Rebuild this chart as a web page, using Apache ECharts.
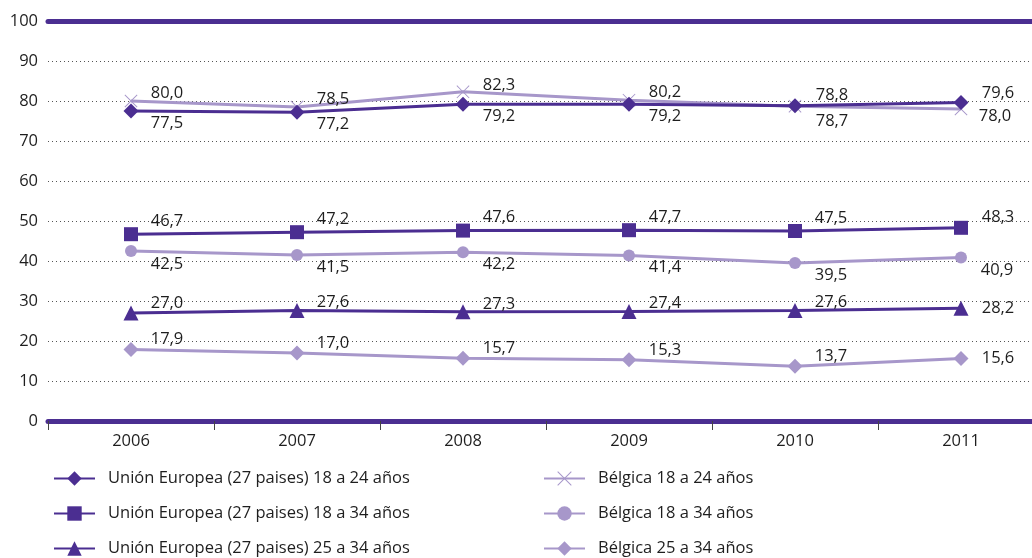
<!DOCTYPE html>
<html>
<head>
<meta charset="utf-8">
<script src="https://cdn.jsdelivr.net/npm/echarts@6/dist/echarts.min.js"></script>
<style>
html,body{margin:0;padding:0;background:#fff;}
#chart{width:1032px;height:558px;}
</style>
</head>
<body>
<div id="chart"></div>
<script>
const years = ['2006', '2007', '2008', '2009', '2010', '2011'];
const yTicks = [0, 10, 20, 30, 40, 50, 60, 70, 80, 90, 100];
const seriesNames = [
  'Unión Europea (27 paises) 18 a 24 años',
  'Unión Europea (27 paises) 18 a 34 años',
  'Unión Europea (27 paises) 25 a 34 años',
  'Bélgica 18 a 24 años',
  'Bélgica 18 a 34 años',
  'Bélgica 25 a 34 años'
];
const eu1824 = [77.5, 77.2, 79.2, 79.2, 78.8, 79.6];
const eu1834 = [46.7, 47.2, 47.6, 47.7, 47.5, 48.3];
const eu2534 = [27.0, 27.6, 27.3, 27.4, 27.6, 28.2];
const be1824 = [80.0, 78.5, 82.3, 80.2, 78.7, 78.0];
const be1834 = [42.5, 41.5, 42.2, 41.4, 39.5, 40.9];
const be2534 = [17.9, 17.0, 15.7, 15.3, 13.7, 15.6];

const DARK = '#4b2e91';
const LIGHT = '#a797ca';
const FONT = 'Open Sans';
const FS = 16.5;
const TXT = '#1e1e1e';
const xSym = 'path://M0,1L1,0L10,9L19,0L20,1L11,10L20,19L19,20L10,11L1,20L0,19L9,10Z';

// label offsets (style only): [dx, dy] per point
const offEu1824 = [[36,12],[36,12],[36,12],[36,12],[37,-11],[37,-9]];
const offBe1824 = [[36,-8],[36,-8],[36,-7],[36,-8],[37,15],[34,7]];
const offEu1834 = [[36,-13],[36,-13],[36,-13],[36,-13],[36,-13],[37,-11]];
const offBe1834 = [[36,13],[36,12],[36,12],[36,12],[36,12],[36,13]];
const offEu2534 = [[36,-10],[36,-8],[36,-8],[36,-8],[36,-8],[37,0]];
const offBe2534 = [[36,-10],[36,-10],[36,-10],[36,-10],[36,-10],[37,0]];

function fmt(v){ return v.toFixed(1).replace('.', ','); }

function mk(name, vals, offs, color, symbol, size){
  return {
    name: name,
    type: 'line',
    data: vals.map((v, i) => ({
      value: v,
      label: { offset: offs[i] }
    })),
    symbol: symbol,
    symbolSize: size,
    showAllSymbol: true,
    lineStyle: { color: color, width: 3 },
    itemStyle: { color: color, borderWidth: 0 },
    emphasis: { disabled: true },
    animation: false,
    label: {
      show: true,
      position: 'inside',
      formatter: p => fmt(p.value),
      color: TXT,
      fontFamily: FONT,
      fontSize: FS,
      align: 'center',
      verticalAlign: 'middle'
    }
  };
}

// legend placement (style): [left, top] per series
const legPos = [[53, 470], [53, 505], [53, 540], [543, 470], [543, 505], [543, 540]];
const legends = seriesNames.map((n, i) => ({
  data: [n],
  orient: 'horizontal',
  left: legPos[i][0], top: legPos[i][1],
  padding: 0,
  itemWidth: 41, itemHeight: 18,
  textStyle: { color: TXT, fontFamily: FONT, fontSize: FS, padding: [0, 0, 0, 8] },
  selectedMode: false
}));

const chart = echarts.init(document.getElementById('chart'));
chart.setOption({
  backgroundColor: '#fff',
  animation: false,
  grid: { left: 48, right: -12, top: 21, bottom: 137, outerBoundsMode: 'none', containLabel: false },
  xAxis: [{
    type: 'category',
    data: years,
    boundaryGap: true,
    axisLine: { lineStyle: { color: DARK, width: 5 } },
    axisTick: { show: true, length: 9, lineStyle: { color: '#444', width: 1 } },
    axisLabel: { color: TXT, fontFamily: FONT, fontSize: FS, margin: 12 }
  }, {
    type: 'category',
    data: years,
    position: 'top',
    axisLine: { show: true, lineStyle: { color: DARK, width: 5 } },
    axisTick: { show: false },
    axisLabel: { show: false }
  }],
  yAxis: {
    type: 'value',
    min: yTicks[0],
    max: yTicks[yTicks.length - 1],
    interval: 10,
    axisLine: { show: false },
    axisTick: { show: false },
    axisLabel: { color: TXT, fontFamily: FONT, fontSize: FS, margin: 10 },
    splitLine: { show: true, lineStyle: { color: '#555', type: [1, 3], width: 1 } }
  },
  legend: legends,
  series: [
    mk(seriesNames[3], be1824, offBe1824, LIGHT, xSym, 13),
    mk(seriesNames[4], be1834, offBe1834, LIGHT, 'circle', 12),
    mk(seriesNames[5], be2534, offBe2534, LIGHT, 'diamond', 15),
    mk(seriesNames[0], eu1824, offEu1824, DARK, 'diamond', 15),
    mk(seriesNames[1], eu1834, offEu1834, DARK, 'rect', 14),
    mk(seriesNames[2], eu2534, offEu2534, DARK, 'triangle', 15)
  ]
});
</script>
</body>
</html>
